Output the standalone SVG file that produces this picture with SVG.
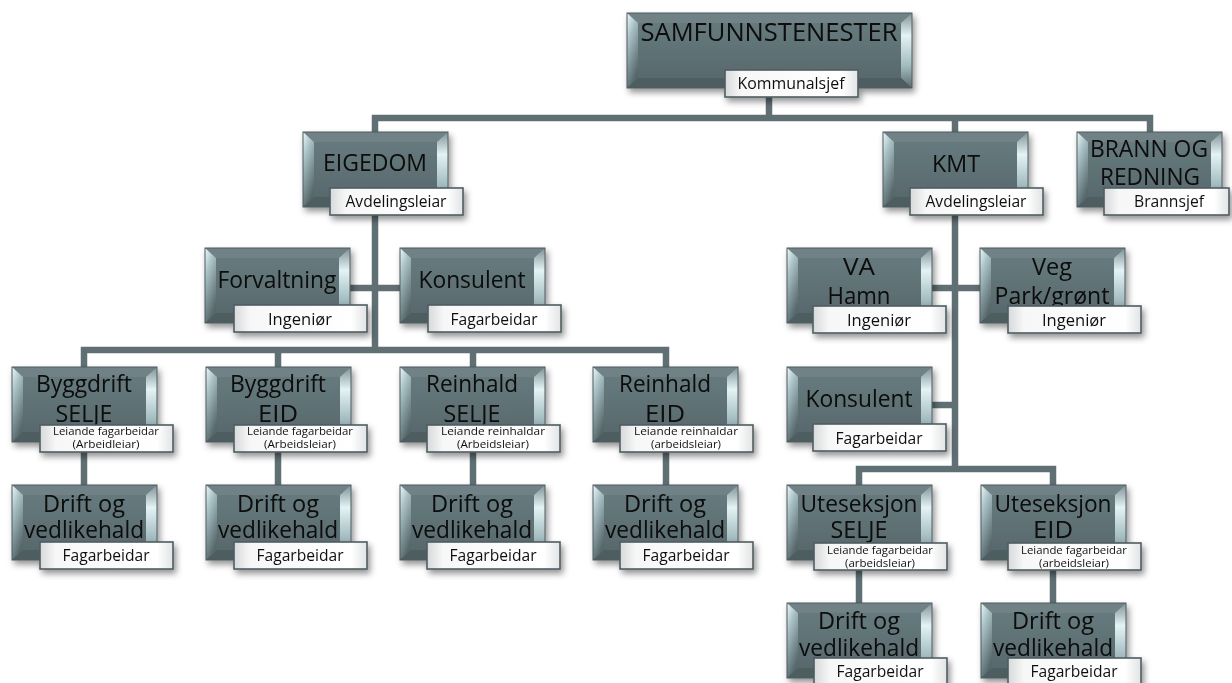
<svg xmlns="http://www.w3.org/2000/svg" xmlns:xlink="http://www.w3.org/1999/xlink" width="1232" height="683" viewBox="0 0 1232 683">
  <defs>
    <style>
      .t { font-family: "Open Sans", "Liberation Sans", sans-serif; font-size: 24.5px; fill: #0a0a0a; text-anchor: middle; }
      .big { font-size: 25.5px; }
      .lb { font-family: "Open Sans", "Liberation Sans", sans-serif; font-size: 16px; fill: #111; text-anchor: middle; }
      .lb2 { font-family: "Open Sans", "Liberation Sans", sans-serif; font-size: 11.5px; fill: #111; text-anchor: middle; }
      .wire { fill: none; stroke: #5f6f73; stroke-width: 6.5; stroke-linecap: square; }
      .node { filter: url(#shadow); }
    </style>
    <filter id="shadow" x="-10%" y="-15%" width="125%" height="145%">
      <feDropShadow dx="2.5" dy="4" stdDeviation="3" flood-color="#000" flood-opacity="0.42"/>
    </filter>
    <linearGradient id="face" x1="0" y1="0" x2="0" y2="1">
      <stop offset="0" stop-color="#667a7e"/>
      <stop offset="1" stop-color="#58696d"/>
    </linearGradient>
    <linearGradient id="bevL" x1="0" y1="0" x2="0.4" y2="1">
      <stop offset="0" stop-color="#eef9fa"/>
      <stop offset="0.35" stop-color="#a9c1c5"/>
      <stop offset="1" stop-color="#56676b"/>
    </linearGradient>
    <linearGradient id="bevR" x1="0" y1="0" x2="0" y2="1">
      <stop offset="0" stop-color="#7f9296"/>
      <stop offset="0.3" stop-color="#e4f3f5"/>
      <stop offset="0.7" stop-color="#a3bcc0"/>
      <stop offset="1" stop-color="#5b6c70"/>
    </linearGradient>
    <linearGradient id="labelFill" x1="0" y1="0" x2="1" y2="0">
      <stop offset="0" stop-color="#d6d9da"/>
      <stop offset="0.12" stop-color="#f7f7f7"/>
      <stop offset="0.88" stop-color="#ffffff"/>
      <stop offset="1" stop-color="#e1e3e4"/>
    </linearGradient>

    <!-- bevelled node box, 145 x 75 -->
    <g id="box">
      <rect x="0" y="0" width="145" height="75" fill="url(#face)"/>
      <polygon points="0,0 145,0 134,10 11,10" fill="#708286"/>
      <polygon points="0,0 11,10 11,65 0,75" fill="url(#bevL)"/>
      <polygon points="145,0 145,75 134,65 134,10" fill="url(#bevR)"/>
      <polygon points="0,75 11,65 134,65 145,75" fill="#4e5d61"/>
      <rect x="11" y="10" width="123" height="55" fill="url(#face)"/>
      <rect x="0" y="0" width="145" height="75" fill="none" stroke="#4c5a5e" stroke-width="1"/>
    </g>
    <!-- wide bevelled box, 285 x 75 -->
    <g id="boxWide">
      <rect x="0" y="0" width="285" height="75" fill="url(#face)"/>
      <polygon points="0,0 285,0 274,10 11,10" fill="#708286"/>
      <polygon points="0,0 11,10 11,65 0,75" fill="url(#bevL)"/>
      <polygon points="285,0 285,75 274,65 274,10" fill="url(#bevR)"/>
      <polygon points="0,75 11,65 274,65 285,75" fill="#4e5d61"/>
      <rect x="11" y="10" width="263" height="55" fill="url(#face)"/>
      <rect x="0" y="0" width="285" height="75" fill="none" stroke="#4c5a5e" stroke-width="1"/>
    </g>
    <!-- title label -->
    <rect id="label" x="0" y="0" width="133" height="27" fill="url(#labelFill)" stroke="#4f5d61" stroke-width="1.6"/>
  </defs>

  <rect x="0" y="0" width="1232" height="683" fill="#ffffff"/>

  <!-- connectors -->
  <g id="connectors">
    <path class="wire" d="M769,98 V118 M375,118 H1150 M375,118 V132 M955,118 V132 M1150,118 V132"/>
    <path class="wire" d="M375,216 V350 M350,288 H400 M84,350 H666 M84,350 V367 M278,350 V367 M473,350 V367 M666,350 V367"/>
    <path class="wire" d="M84,452 V485 M278,452 V485 M473,452 V485 M666,452 V485"/>
    <path class="wire" d="M955,216 V469 M932,288 H980 M932,405 H955 M859,469 H1053 M859,469 V485 M1053,469 V485 M859,569 V603 M1053,569 V603"/>
  </g>

  <!-- top -->
  <g id="n-samfunnstenester" class="node">
    <use href="#boxWide" x="627" y="13"/>
    <text class="t big" x="769" y="41" textLength="257" lengthAdjust="spacingAndGlyphs">SAMFUNNSTENESTER</text>
    <use href="#label" x="725" y="70"/>
    <text class="lb" x="791" y="89" textLength="107" lengthAdjust="spacingAndGlyphs">Kommunalsjef</text>
  </g>

  <!-- departments -->
  <g id="n-eigedom" class="node">
    <use href="#box" x="303" y="132"/>
    <text class="t" x="375" y="171" textLength="104" lengthAdjust="spacingAndGlyphs">EIGEDOM</text>
    <use href="#label" x="330" y="188"/>
    <text class="lb" x="396" y="207" textLength="101" lengthAdjust="spacingAndGlyphs">Avdelingsleiar</text>
  </g>
  <g id="n-kmt" class="node">
    <use href="#box" x="883" y="132"/>
    <text class="t" x="956" y="172" textLength="48" lengthAdjust="spacingAndGlyphs">KMT</text>
    <use href="#label" x="910" y="188"/>
    <text class="lb" x="976" y="207" textLength="101" lengthAdjust="spacingAndGlyphs">Avdelingsleiar</text>
  </g>
  <g id="n-brann" class="node">
    <use href="#box" x="1077" y="132"/>
    <text class="t" x="1149" y="157" textLength="118" lengthAdjust="spacingAndGlyphs">BRANN OG</text>
    <text class="t" x="1150" y="185" textLength="100" lengthAdjust="spacingAndGlyphs">REDNING</text>
    <rect x="1104" y="188" width="125" height="27" fill="url(#labelFill)" stroke="#4f5d61" stroke-width="1.6"/>
    <text class="lb" x="1169" y="207" textLength="70" lengthAdjust="spacingAndGlyphs">Brannsjef</text>
  </g>

  <!-- EIGEDOM staff -->
  <g id="n-forvaltning" class="node">
    <use href="#box" x="205" y="248"/>
    <text class="t" x="277" y="288" textLength="119" lengthAdjust="spacingAndGlyphs">Forvaltning</text>
    <use href="#label" x="234" y="305"/>
    <text class="lb" x="300" y="325" textLength="64" lengthAdjust="spacingAndGlyphs">Ingeniør</text>
  </g>
  <g id="n-konsulent-eigedom" class="node">
    <use href="#box" x="400" y="248"/>
    <text class="t" x="472" y="288" textLength="107" lengthAdjust="spacingAndGlyphs">Konsulent</text>
    <use href="#label" x="428" y="305"/>
    <text class="lb" x="494" y="325" textLength="87" lengthAdjust="spacingAndGlyphs">Fagarbeidar</text>
  </g>

  <!-- EIGEDOM units -->
  <g id="n-byggdrift-selje" class="node">
    <use href="#box" x="12" y="367"/>
    <text class="t" x="84" y="392" textLength="96" lengthAdjust="spacingAndGlyphs">Byggdrift</text>
    <text class="t" x="84" y="422" textLength="57" lengthAdjust="spacingAndGlyphs">SELJE</text>
    <use href="#label" x="40" y="425"/>
    <text class="lb2" x="106" y="435" textLength="106" lengthAdjust="spacingAndGlyphs">Leiande fagarbeidar</text>
    <text class="lb2" x="106" y="448" textLength="67" lengthAdjust="spacingAndGlyphs">(Arbeidleiar)</text>
  </g>
  <g id="n-byggdrift-eid" class="node">
    <use href="#box" x="206" y="367"/>
    <text class="t" x="278" y="392" textLength="96" lengthAdjust="spacingAndGlyphs">Byggdrift</text>
    <text class="t" x="278" y="422" textLength="40" lengthAdjust="spacingAndGlyphs">EID</text>
    <use href="#label" x="234" y="425"/>
    <text class="lb2" x="300" y="435" textLength="106" lengthAdjust="spacingAndGlyphs">Leiande fagarbeidar</text>
    <text class="lb2" x="300" y="448" textLength="72" lengthAdjust="spacingAndGlyphs">(Arbeidsleiar)</text>
  </g>
  <g id="n-reinhald-selje" class="node">
    <use href="#box" x="400" y="367"/>
    <text class="t" x="472" y="392" textLength="92" lengthAdjust="spacingAndGlyphs">Reinhald</text>
    <text class="t" x="472" y="422" textLength="57" lengthAdjust="spacingAndGlyphs">SELJE</text>
    <use href="#label" x="427" y="425"/>
    <text class="lb2" x="493" y="435" textLength="104" lengthAdjust="spacingAndGlyphs">Leiande reinhaldar</text>
    <text class="lb2" x="493" y="448" textLength="72" lengthAdjust="spacingAndGlyphs">(Arbeidsleiar)</text>
  </g>
  <g id="n-reinhald-eid" class="node">
    <use href="#box" x="593" y="367"/>
    <text class="t" x="665" y="392" textLength="92" lengthAdjust="spacingAndGlyphs">Reinhald</text>
    <text class="t" x="665" y="422" textLength="40" lengthAdjust="spacingAndGlyphs">EID</text>
    <use href="#label" x="620" y="425"/>
    <text class="lb2" x="686" y="435" textLength="104" lengthAdjust="spacingAndGlyphs">Leiande reinhaldar</text>
    <text class="lb2" x="686" y="448" textLength="70" lengthAdjust="spacingAndGlyphs">(arbeidsleiar)</text>
  </g>

  <g id="n-drift-1" class="node">
    <use href="#box" x="12" y="485"/>
    <text class="t" x="84" y="512" textLength="82" lengthAdjust="spacingAndGlyphs">Drift og</text>
    <text class="t" x="84" y="538" textLength="120" lengthAdjust="spacingAndGlyphs">vedlikehald</text>
    <use href="#label" x="40" y="542"/>
    <text class="lb" x="106" y="561" textLength="87" lengthAdjust="spacingAndGlyphs">Fagarbeidar</text>
  </g>
  <g id="n-drift-2" class="node">
    <use href="#box" x="206" y="485"/>
    <text class="t" x="278" y="512" textLength="82" lengthAdjust="spacingAndGlyphs">Drift og</text>
    <text class="t" x="278" y="538" textLength="120" lengthAdjust="spacingAndGlyphs">vedlikehald</text>
    <use href="#label" x="234" y="542"/>
    <text class="lb" x="300" y="561" textLength="87" lengthAdjust="spacingAndGlyphs">Fagarbeidar</text>
  </g>
  <g id="n-drift-3" class="node">
    <use href="#box" x="400" y="485"/>
    <text class="t" x="472" y="512" textLength="82" lengthAdjust="spacingAndGlyphs">Drift og</text>
    <text class="t" x="472" y="538" textLength="120" lengthAdjust="spacingAndGlyphs">vedlikehald</text>
    <use href="#label" x="427" y="542"/>
    <text class="lb" x="493" y="561" textLength="87" lengthAdjust="spacingAndGlyphs">Fagarbeidar</text>
  </g>
  <g id="n-drift-4" class="node">
    <use href="#box" x="593" y="485"/>
    <text class="t" x="665" y="512" textLength="82" lengthAdjust="spacingAndGlyphs">Drift og</text>
    <text class="t" x="665" y="538" textLength="120" lengthAdjust="spacingAndGlyphs">vedlikehald</text>
    <use href="#label" x="620" y="542"/>
    <text class="lb" x="686" y="561" textLength="87" lengthAdjust="spacingAndGlyphs">Fagarbeidar</text>
  </g>

  <!-- KMT staff and units -->
  <g id="n-va-hamn" class="node">
    <use href="#box" x="787" y="248"/>
    <text class="t" x="859" y="275" textLength="32" lengthAdjust="spacingAndGlyphs">VA</text>
    <text class="t" x="859" y="304" textLength="63" lengthAdjust="spacingAndGlyphs">Hamn</text>
    <use href="#label" x="813" y="306"/>
    <text class="lb" x="879" y="326" textLength="64" lengthAdjust="spacingAndGlyphs">Ingeniør</text>
  </g>
  <g id="n-veg-park" class="node">
    <use href="#box" x="980" y="248"/>
    <text class="t" x="1052" y="275" textLength="40" lengthAdjust="spacingAndGlyphs">Veg</text>
    <text class="t" x="1052" y="304" textLength="115" lengthAdjust="spacingAndGlyphs">Park/grønt</text>
    <use href="#label" x="1008" y="306"/>
    <text class="lb" x="1074" y="326" textLength="64" lengthAdjust="spacingAndGlyphs">Ingeniør</text>
  </g>
  <g id="n-konsulent-kmt" class="node">
    <use href="#box" x="787" y="367"/>
    <text class="t" x="859" y="407" textLength="107" lengthAdjust="spacingAndGlyphs">Konsulent</text>
    <use href="#label" x="813" y="424"/>
    <text class="lb" x="879" y="444" textLength="87" lengthAdjust="spacingAndGlyphs">Fagarbeidar</text>
  </g>
  <g id="n-uteseksjon-selje" class="node">
    <use href="#box" x="787" y="485"/>
    <text class="t" x="859" y="512" textLength="117" lengthAdjust="spacingAndGlyphs">Uteseksjon</text>
    <text class="t" x="859" y="538" textLength="57" lengthAdjust="spacingAndGlyphs">SELJE</text>
    <use href="#label" x="814" y="543"/>
    <text class="lb2" x="880" y="554" textLength="106" lengthAdjust="spacingAndGlyphs">Leiande fagarbeidar</text>
    <text class="lb2" x="880" y="567" textLength="70" lengthAdjust="spacingAndGlyphs">(arbeidsleiar)</text>
  </g>
  <g id="n-uteseksjon-eid" class="node">
    <use href="#box" x="981" y="485"/>
    <text class="t" x="1053" y="512" textLength="117" lengthAdjust="spacingAndGlyphs">Uteseksjon</text>
    <text class="t" x="1053" y="538" textLength="40" lengthAdjust="spacingAndGlyphs">EID</text>
    <use href="#label" x="1008" y="543"/>
    <text class="lb2" x="1074" y="554" textLength="106" lengthAdjust="spacingAndGlyphs">Leiande fagarbeidar</text>
    <text class="lb2" x="1074" y="567" textLength="70" lengthAdjust="spacingAndGlyphs">(arbeidsleiar)</text>
  </g>
  <g id="n-drift-5" class="node">
    <use href="#box" x="787" y="603"/>
    <text class="t" x="859" y="629" textLength="82" lengthAdjust="spacingAndGlyphs">Drift og</text>
    <text class="t" x="859" y="656" textLength="120" lengthAdjust="spacingAndGlyphs">vedlikehald</text>
    <use href="#label" x="814" y="658"/>
    <text class="lb" x="880" y="677" textLength="87" lengthAdjust="spacingAndGlyphs">Fagarbeidar</text>
  </g>
  <g id="n-drift-6" class="node">
    <use href="#box" x="981" y="603"/>
    <text class="t" x="1053" y="629" textLength="82" lengthAdjust="spacingAndGlyphs">Drift og</text>
    <text class="t" x="1053" y="656" textLength="120" lengthAdjust="spacingAndGlyphs">vedlikehald</text>
    <use href="#label" x="1008" y="658"/>
    <text class="lb" x="1074" y="677" textLength="87" lengthAdjust="spacingAndGlyphs">Fagarbeidar</text>
  </g>
</svg>
